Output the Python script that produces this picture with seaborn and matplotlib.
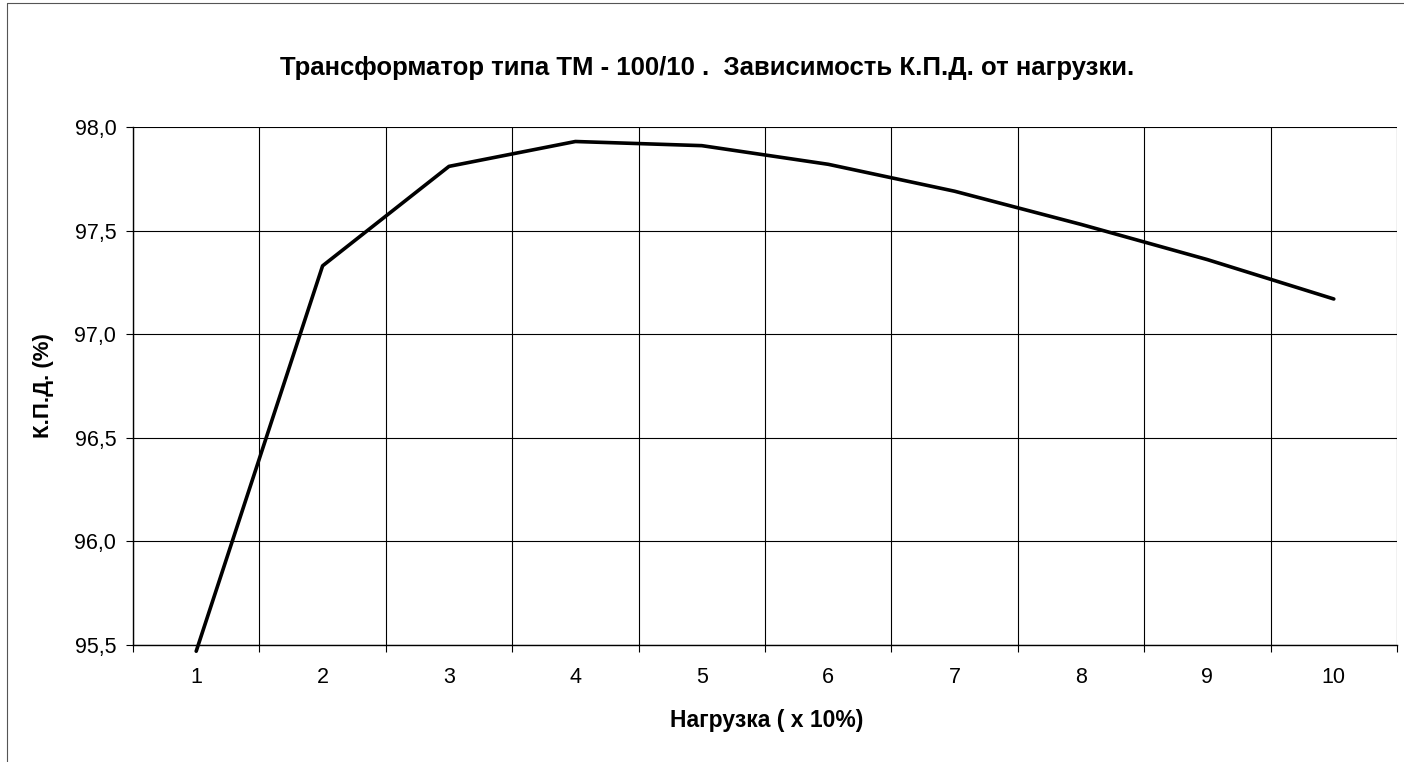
import matplotlib
matplotlib.use("Agg")
import matplotlib.pyplot as plt
from matplotlib.lines import Line2D
import seaborn as sns
import pandas as pd
import numpy as np

# ---- data ----
load = [1, 2, 3, 4, 5, 6, 7, 8, 9, 10]
efficiency = [95.47, 97.33, 97.81, 97.93, 97.91, 97.82, 97.69, 97.53, 97.36, 97.17]
y_ticks = [95.5, 96.0, 96.5, 97.0, 97.5, 98.0]
y_tick_labels = ["95,5", "96,0", "96,5", "97,0", "97,5", "98,0"]
x_tick_labels = ["1", "2", "3", "4", "5", "6", "7", "8", "9", "10"]
title = "Трансформатор типа ТМ - 100/10 .  Зависимость К.П.Д. от нагрузки."
x_label = "Нагрузка ( x 10%)"
y_label = "К.П.Д. (%)"

sns.set_theme(style="white")
plt.rcParams['font.family'] = ['Liberation Sans', 'DejaVu Sans']

W, H = 1404, 762
fig = plt.figure(figsize=(W / 100, H / 100), dpi=100)
fig.patch.set_facecolor("white")

L, R, T, B = 133, 1397, 127, 645
ax = fig.add_axes([L / W, 1 - B / H, (R - L) / W, (B - T) / H])
ax.set_facecolor("white")

df = pd.DataFrame({"load": load, "eff": efficiency})
sns.lineplot(data=df, x="load", y="eff", ax=ax, color="black", linewidth=2.6,
             clip_on=False, zorder=5)

ax.set_xlim(0.5, 10.5)
ax.set_ylim(95.5, 98.0)

ax.set_xticks(load)
ax.set_xticklabels(x_tick_labels)
ax.set_xticks(np.arange(0.5, 10.51, 1.0), minor=True)
ax.set_yticks(y_ticks)
ax.set_yticklabels(y_tick_labels)

ax.grid(False)
ax.grid(which="minor", axis="x", color="black", linewidth=0.8)
ax.grid(which="major", axis="y", color="black", linewidth=0.8)

ax.tick_params(axis="x", which="major", length=0, pad=16, labelsize=15.5, colors="black")
ax.tick_params(axis="x", which="minor", length=5, width=0.8, direction="out", color="black", bottom=True)
ax.tick_params(axis="y", which="major", length=5, width=0.8, direction="out", pad=7,
               labelsize=15.5, colors="black", left=True)

for side in ["top", "right"]:
    ax.spines[side].set_visible(False)
for side in ["left", "bottom"]:
    ax.spines[side].set_visible(True)
    ax.spines[side].set_color("black")
    ax.spines[side].set_linewidth(1.0)

ax.set_xlabel("")
ax.set_ylabel("")

fig.text(707 / W, 1 - 68 / H, title, ha="center", va="center",
         fontsize=18.5, fontweight="bold", color="black")
fig.text(767 / W, 1 - 721 / H, x_label, ha="center", va="center",
         fontsize=16.5, fontweight="bold", color="black")
fig.text(43 / W, 1 - 386 / H, y_label, ha="center", va="center", rotation=90,
         fontsize=16, fontweight="bold", color="black")

# outer chart frame (partially visible in the scan)
fig.add_artist(Line2D([7 / W, 7 / W], [0, 1 - 3 / H], transform=fig.transFigure,
                      color="#555555", linewidth=0.8))
fig.add_artist(Line2D([7 / W, 1], [1 - 3 / H, 1 - 3 / H], transform=fig.transFigure,
                      color="#555555", linewidth=0.8))

fig.savefig("out.png", dpi=100, facecolor="white")
